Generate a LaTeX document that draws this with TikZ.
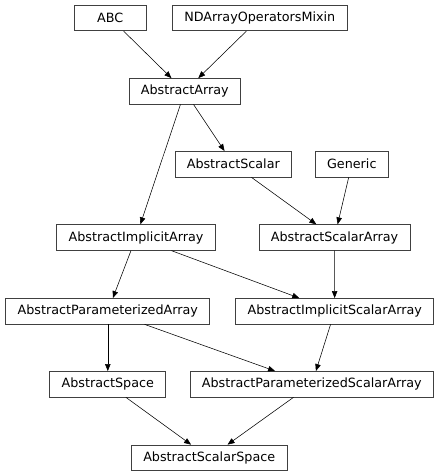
\documentclass[tikz,border=0pt]{standalone}
\usepackage{fontspec}
\setmainfont{DejaVu Sans}
\usepackage{tikz}
\usetikzlibrary{arrows.meta}
\definecolor{boxGrey}{RGB}{64, 64, 64}

\begin{document}
\begin{tikzpicture}[x=1pt, y=-1pt]
                \tikzstyle{cls} = [rectangle, draw=boxGrey, line width=0.8pt, minimum width=72.5pt, minimum height=25.5pt, inner xsep=11.8pt, text centered, font=\fontsize{12.75}{14}\selectfont]
                \tikzstyle{inherit} = [line width=0.55pt, -{Triangle[length=7pt, width=5.5pt]}]
                \useasboundingbox (0,0) rectangle (440,476);
                
                \node[cls] (abc) at (110.3,18) {ABC};
                \node[cls] (ndmixin) at (259.8,18) {NDArrayOperatorsMixin};
                \node[cls] (array) at (184.8,91.3) {AbstractArray};
                \node[cls] (scalar) at (233.3,164.2) {AbstractScalar};
                \node[cls] (generic) at (351.8,164.2) {Generic};
                \node[cls] (implicit) at (136,237.5) {AbstractImplicitArray};
                \node[cls] (scalararray) at (334.5,237.5) {AbstractScalarArray};
                \node[cls] (param) at (107.8,311.2) {AbstractParameterizedArray};
                \node[cls] (implicitscalar) at (334.7,311.2) {AbstractImplicitScalarArray};
                \node[cls] (space) at (107.8,384.2) {AbstractSpace};
                \node[cls] (paramscalar) at (311.8,384.2) {AbstractParameterizedScalarArray};
                \node[cls] (scalarspace) at (209.2,457.8) {AbstractScalarSpace};
                
                \draw[inherit] (abc) -- (array);
                \draw[inherit] (ndmixin) -- (array);
                \draw[inherit] (array) -- (implicit);
                \draw[inherit] (array) -- (scalar);
                \draw[inherit] (scalar) -- (scalararray);
                \draw[inherit] (generic) -- (scalararray);
                \draw[inherit] (implicit) -- (param);
                \draw[inherit] (implicit) -- (implicitscalar);
                \draw[inherit] (scalararray) -- (implicitscalar);
                \draw[inherit] (param) -- (space);
                \draw[inherit] (param) -- (paramscalar);
                \draw[inherit] (implicitscalar) -- (paramscalar);
                \draw[inherit] (space) -- (scalarspace);
                \draw[inherit] (paramscalar) -- (scalarspace);
            \end{tikzpicture}
\end{document}
